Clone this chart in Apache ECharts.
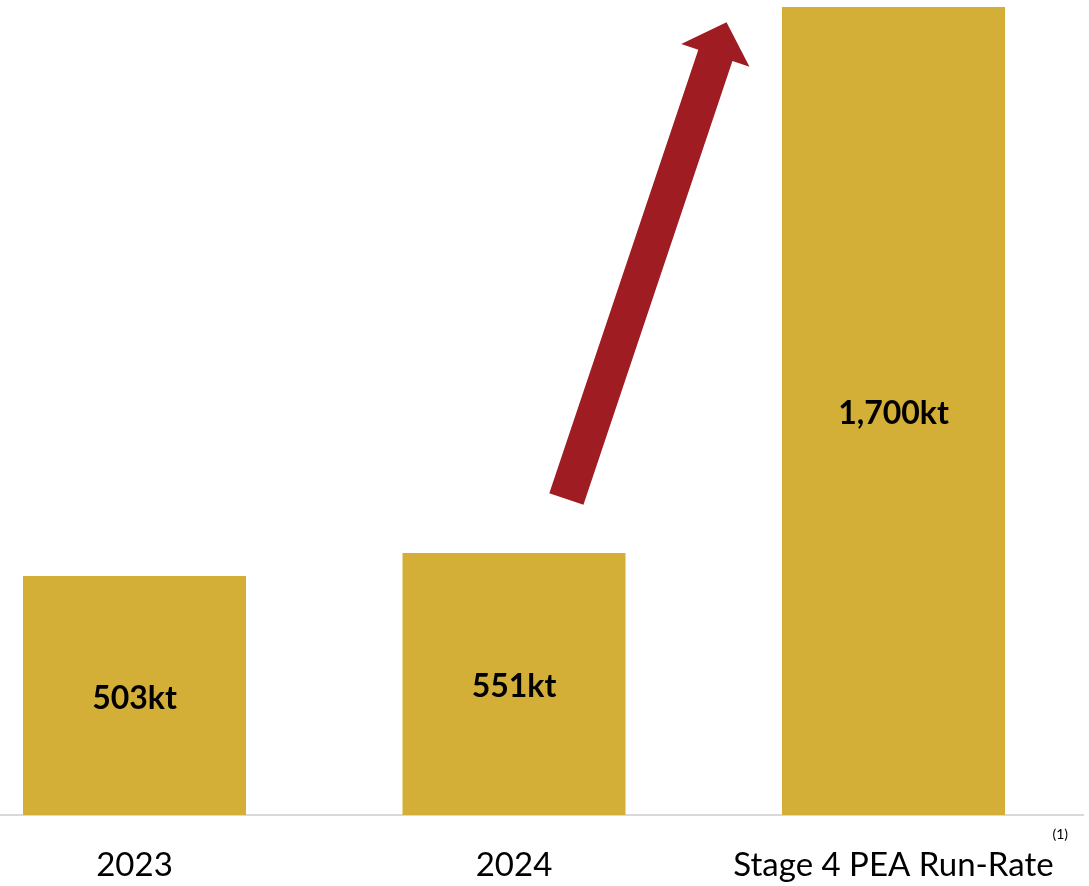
<!DOCTYPE html>
<html>
<head>
<meta charset="utf-8">
<script src="https://cdn.jsdelivr.net/npm/echarts@6/dist/echarts.min.js"></script>
<style>
html,body{margin:0;padding:0;background:#fff;}
#c{width:1089px;height:886px;}
</style>
</head>
<body>
<div id="c"></div>
<script>
const categories = ['2023', '2024', 'Stage 4 PEA Run-Rate'];
const values = [503, 551, 1700];
const valueLabels = ['503kt', '551kt', '1,700kt'];
// arrow annotation anchors in data space: [category index, value]
const arrowFrom = [1.138, 665];
const arrowTo = [1.56, 1668];

const chart = echarts.init(document.getElementById('c'), null, {renderer: 'canvas'});
const option = {
  animation: false,
  backgroundColor: '#ffffff',
  grid: {left: -55.25, right: 5.75, top: 7, bottom: 71, containLabel: false, outerBoundsMode: 'none'},
  xAxis: {
    type: 'category',
    data: categories,
    axisLine: {show: true, lineStyle: {color: '#d9d9d9', width: 2}},
    axisTick: {show: false},
    axisLabel: {color: '#000', fontFamily: 'Lato', fontSize: 33, margin: 34, interval: 0, hideOverlap: false}
  },
  yAxis: {
    type: 'value', min: 0, max: 1700, show: false,
    splitLine: {show: false}
  },
  series: [{
    type: 'bar',
    data: values,
    barWidth: 223,
    itemStyle: {color: '#D4AF38'},
    label: {
      show: true, position: 'inside', offset: [0, 3],
      formatter: p => valueLabels[p.dataIndex],
      color: '#000', fontFamily: 'Lato', fontWeight: 'bold', fontSize: 32
    }
  }]
};
chart.setOption(option);

function catToPx(ci, v) {
  const i0 = Math.floor(ci), i1 = Math.min(i0 + 1, categories.length - 1);
  const p0 = chart.convertToPixel({gridIndex: 0}, [i0, v]);
  const p1 = chart.convertToPixel({gridIndex: 0}, [i1, v]);
  const f = ci - i0;
  return [p0[0] + (p1[0] - p0[0]) * f, p0[1]];
}
const a = catToPx(arrowFrom[0], arrowFrom[1]);
const b = catToPx(arrowTo[0], arrowTo[1]);
const dx = b[0] - a[0], dy = b[1] - a[1];
const len = Math.sqrt(dx * dx + dy * dy);
const ux = dx / len, uy = dy / len;
const nx = -uy, ny = ux;
const shaftHalf = 18, headHalf = 36, headLen = 35;
const hb = [b[0] - ux * headLen, b[1] - uy * headLen];
const pts = [
  [a[0] + nx * shaftHalf, a[1] + ny * shaftHalf],
  [hb[0] + nx * shaftHalf, hb[1] + ny * shaftHalf],
  [hb[0] + nx * headHalf, hb[1] + ny * headHalf],
  [b[0], b[1]],
  [hb[0] - nx * headHalf, hb[1] - ny * headHalf],
  [hb[0] - nx * shaftHalf, hb[1] - ny * shaftHalf],
  [a[0] - nx * shaftHalf, a[1] - ny * shaftHalf]
];
chart.setOption({
  graphic: [
    {type: 'polygon', shape: {points: pts}, style: {fill: '#9E1C22'}, z: 10},
    {type: 'text', right: 21, top: 827, style: {text: '(1)', fontFamily: 'Lato', fontSize: 14, fill: '#000'}}
  ]
});
</script>
</body>
</html>
